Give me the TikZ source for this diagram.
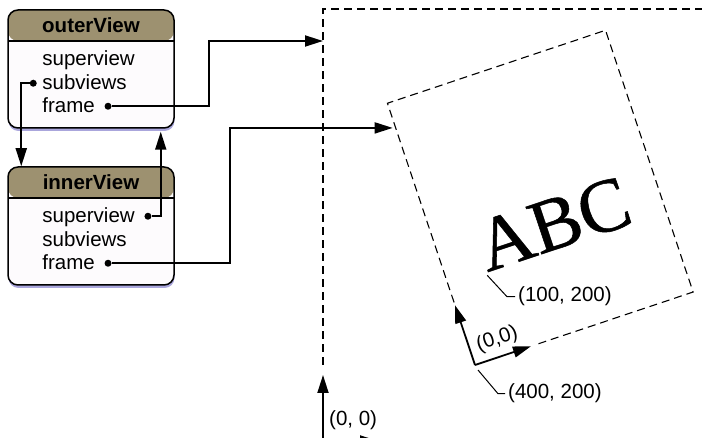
\documentclass[tikz,border=0pt]{standalone}
\usepackage{fontspec}
\setmainfont{Liberation Sans}
\newfontfamily\engravefont[FakeBold=0.7]{Liberation Serif}
\usetikzlibrary{calc, positioning}
\usetikzlibrary{arrows.meta}
\usetikzlibrary{shadows}

\definecolor{headtan}{RGB}{157,145,112}
\definecolor{bodywhite}{RGB}{253,251,253}
\definecolor{shadowblue}{RGB}{170,166,220}
\newcommand{\diagfont}{\fontsize{20.5}{24}\selectfont}

\begin{document}
\begin{tikzpicture}[x=1pt, y=-1pt, font=\diagfont,
  conn/.style={-{Triangle[length=18pt, width=11pt]}, line width=1.8pt},
  frameline/.style={dash pattern=on 8pt off 5pt, line width=1.1pt},
  leader/.style={line width=1pt},
  viewbox/.style={draw, line width=1.5pt, rounded corners=10pt, fill=bodywhite,
    minimum width=166pt, minimum height=118pt, inner sep=0pt,
    drop shadow={shadow xshift=0.5pt, shadow yshift=-3pt, fill=shadowblue, opacity=1},
    path picture={
      \fill[headtan] (path picture bounding box.north west) rectangle ([yshift=-31pt]path picture bounding box.north east);
      \draw[line width=1.2pt] ([yshift=-31pt]path picture bounding box.north west) -- ([yshift=-31pt]path picture bounding box.north east);
    }},
  viewtitle/.style={anchor=base, inner sep=0pt, font=\diagfont\bfseries},
  item/.style={anchor=base west, inner sep=0pt},
  dot/.style={circle, fill, inner sep=0pt, minimum size=7pt},
  engraved/.style={rotate=18.5, anchor=base west, inner sep=0pt, font=\engravefont\fontsize{76}{76}\selectfont}]
\useasboundingbox (0,0) rectangle (702,438);
\clip (0,0) rectangle (702,438);

\node[viewbox] (outer) at (91,69) {};
\node[viewbox] (inner) at (91,226) {};
\node[viewtitle] (outerTitle) at ([yshift=-23pt]outer.north) {outerView};
\node[viewtitle] (innerTitle) at ([yshift=-23pt]inner.north) {innerView};

\foreach \vw/\pre in {outer/out, inner/in}
  \foreach \nm/\txt/\dy in {Sup/superview/56, Sub/subviews/80, Frame/frame/103}
    \node[item] (\pre\nm) at ([shift={(35,\dy)}]\vw.north west) {\txt};

\node[dot] (outSubDot) at ($(outSub.base west)+(-9,-6)$) {};
\node[dot] (outFrameDot) at ($(outFrame.base east)+(13,-6)$) {};
\node[dot] (inSupDot) at ($(inSup.base east)+(13,-6)$) {};
\node[dot] (inFrameDot) at ($(inFrame.base east)+(13,-6)$) {};

\draw[frameline] (323,365) -- (323,9) -- (702,9);
\coordinate (outerHit) at (323,41);
\coordinate (outerOrigin) at (323,441);
\draw[conn] (outerOrigin) -- ++(0,-66);
\draw[conn] (outerOrigin) -- ++(55,0);
\node[item] (outerOriginLbl) at (329,426) {(0, 0)};

\begin{scope}[shift={(475,365)}, rotate=18.5]
  \coordinate (innerOrigin) at (0,0);
  \coordinate (innerHit) at (0,-250);
  \coordinate (textOrigin) at (41,-84);
  \draw[frameline] (0,-66) -- (0,-276) -- (230,-276) -- (230,0) -- (62,0);
  \draw[conn] (innerOrigin) -- (0,-63);
  \draw[conn] (innerOrigin) -- (59,0);
  \node[item, rotate=18.5] (innerOriginLbl) at (8,-12) {(0,0)};
\end{scope}

\node[engraved] (abc) at (textOrigin) {ABC};

\node[item] (textOriginLbl) at (518,302) {(100, 200)};
\node[item] (innerOriginTag) at (508,399) {(400, 200)};
\draw[leader] ([shift={(0pt,-3pt)}]textOrigin) -- ([xshift=-11pt]textOriginLbl.west) -- ([xshift=-3pt]textOriginLbl.west);
\draw[leader] ([shift={(3pt,-5pt)}]innerOrigin) -- ([xshift=-10pt]innerOriginTag.west) -- ([xshift=-3pt]innerOriginTag.west);

\draw[conn] (outSubDot) -| ([xshift=14pt]inner.north west);
\draw[conn] (inSupDot) -| ([shift={(-14pt,-3pt)}]outer.south east);
\draw[conn] (outFrameDot) -- ++(101,0) |- (outerHit);
\draw[conn] (inFrameDot) -- ++(122,0) |- ([xshift=-3pt]innerHit);
\end{tikzpicture}
\end{document}
